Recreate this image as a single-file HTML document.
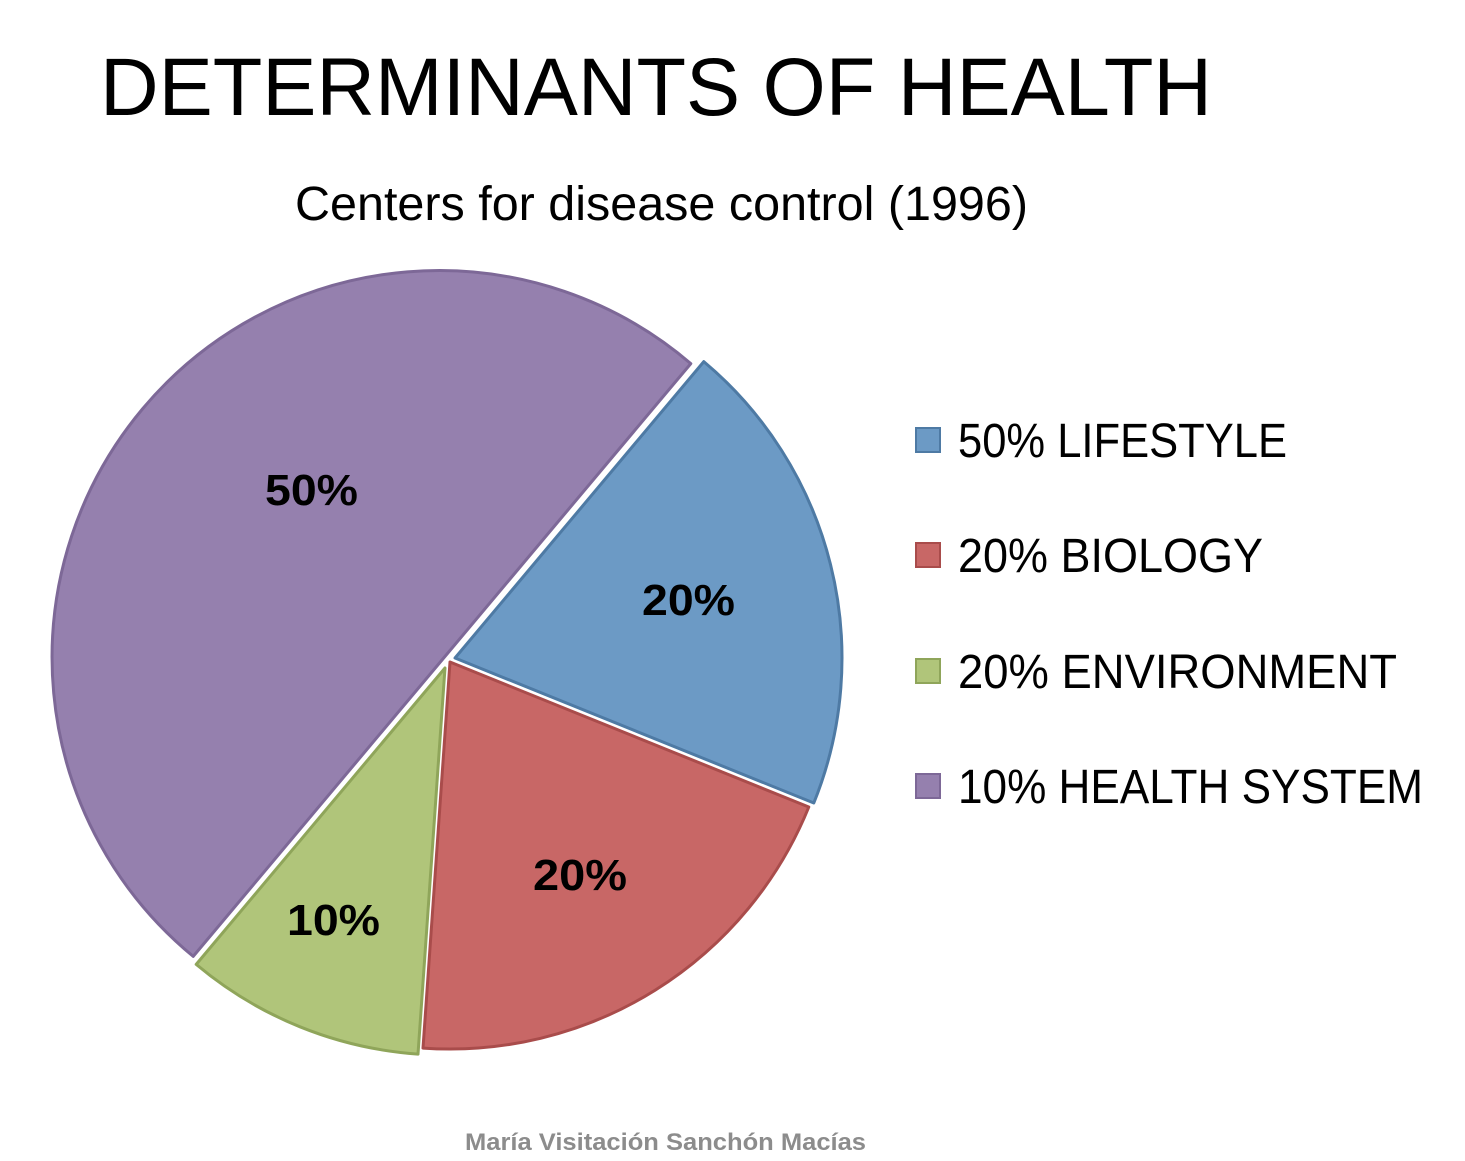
<!DOCTYPE html>
<html><head><meta charset="utf-8"><style>
html,body{margin:0;padding:0;background:#fff;}
svg{display:block;}
text{font-family:"Liberation Sans",sans-serif;}
</style></head><body>
<svg width="1465" height="1161" viewBox="0 0 1465 1161" xmlns="http://www.w3.org/2000/svg">
<text x="100" y="115" font-size="82" textLength="1112" lengthAdjust="spacingAndGlyphs" fill="#000">DETERMINANTS OF HEALTH</text>
<text x="295" y="220" font-size="48" textLength="733" lengthAdjust="spacingAndGlyphs" fill="#000">Centers for disease control (1996)</text>

<g stroke-width="3" stroke-linejoin="round">
<path d="M442,660 L193.2,956.4 A387,387 0 1,1 690.8,363.6 Z" fill="#9580AE" stroke="#7d6897"/>
<path d="M455,658 L703.8,361.6 A387,387 0 0,1 813.8,803 Z" fill="#6C9AC5" stroke="#4e7aa4"/>
<path d="M450,662 L808.8,807 A387,387 0 0,1 423,1048.1 Z" fill="#C86766" stroke="#a94c4b"/>
<path d="M445,668 L418,1054.1 A387,387 0 0,1 196.2,964.4 Z" fill="#B0C57A" stroke="#8fa55a"/>
</g>
<g font-weight="bold" font-size="44" fill="#000">
<text x="265" y="505" textLength="93" lengthAdjust="spacingAndGlyphs">50%</text>
<text x="642" y="615" textLength="93" lengthAdjust="spacingAndGlyphs">20%</text>
<text x="533" y="890" textLength="94" lengthAdjust="spacingAndGlyphs">20%</text>
<text x="287" y="935" textLength="93" lengthAdjust="spacingAndGlyphs">10%</text>
</g>

<g font-size="48" fill="#000">
<rect x="916" y="428" width="24" height="24" fill="#6C9AC5" stroke="#4e7aa4" stroke-width="2"/>
<text x="958" y="457" textLength="329" lengthAdjust="spacingAndGlyphs">50% LIFESTYLE</text>
<rect x="916" y="543" width="24" height="24" fill="#C86766" stroke="#a94c4b" stroke-width="2"/>
<text x="958" y="572" textLength="305" lengthAdjust="spacingAndGlyphs">20% BIOLOGY</text>
<rect x="916" y="659" width="24" height="24" fill="#B0C57A" stroke="#8fa55a" stroke-width="2"/>
<text x="958" y="688" textLength="439" lengthAdjust="spacingAndGlyphs">20% ENVIRONMENT</text>
<rect x="916" y="774" width="24" height="24" fill="#9580AE" stroke="#7d6897" stroke-width="2"/>
<text x="958" y="803" textLength="465" lengthAdjust="spacingAndGlyphs">10% HEALTH SYSTEM</text>
</g>
<text x="465" y="1150" font-size="24" font-weight="bold" fill="#8c8c8c" textLength="401" lengthAdjust="spacingAndGlyphs">María Visitación Sanchón Macías</text>
</svg>
</body></html>
